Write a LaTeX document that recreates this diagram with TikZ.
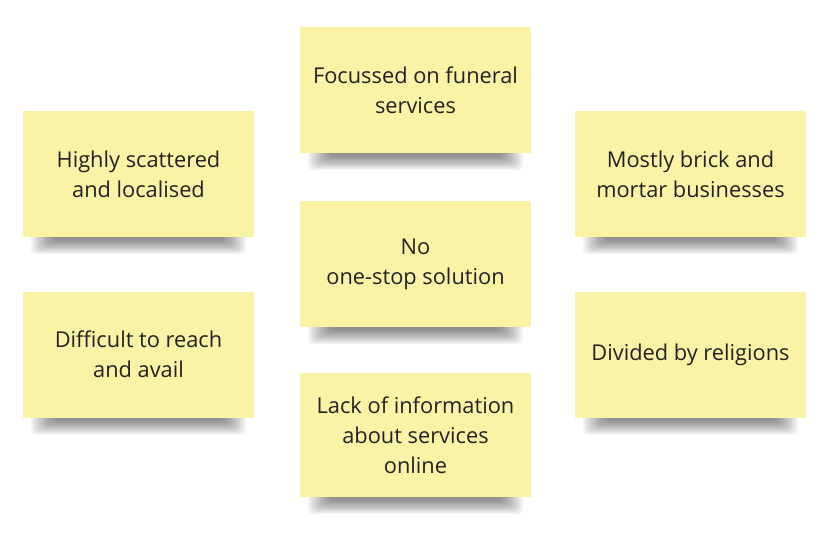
\documentclass[tikz,border=0pt]{standalone}
\usepackage{fontspec}
\setmainfont{Open Sans}
\usetikzlibrary{backgrounds}
\definecolor{notebg}{HTML}{FAF3A6}
\definecolor{notetext}{HTML}{222222}
\tikzset{
  note/.style={fill=notebg, minimum width=231pt, minimum height=126pt, inner sep=0pt,
    align=center, text=notetext, font=\fontsize{21.8}{30}\selectfont},
  shadowlayer/.style={fill=black, opacity=0.042, rounded corners=5pt}
}
\newcommand{\shadowof}[1]{%
  \foreach \i in {0,...,11}{%
    \fill[shadowlayer] ([xshift=8pt+2*\i pt, yshift=4pt]#1.south west) rectangle ([xshift=-8pt-2*\i pt, yshift=-17pt+1.25*\i pt]#1.south east);}}
\begin{document}
\begin{tikzpicture}[x=1pt,y=-1pt]
\begin{scope}[on background layer]
\fill[white] (0,0) rectangle (827,538);
\end{scope}
\useasboundingbox (0,0) rectangle (827,538);
\node[note] (top) at (415.5,90) {Focussed on funeral\\services};
\node[note] (mid) at (415.5,264) {No\\one-stop solution};
\node[note, minimum height=124pt] (bot) at (415.5,435) {Lack of information\\about services\\online};
\node[note] (lt) at (138.5,174) {Highly scattered\\and localised};
\node[note] (lb) at (138.5,354.5) {Difficult to reach\\and avail};
\node[note] (rt) at (690.5,174) {Mostly brick and\\mortar businesses};
\node[note] (rb) at (690.5,354.5) {Divided by religions};
\begin{scope}[on background layer]
\shadowof{top}\shadowof{mid}\shadowof{bot}\shadowof{lt}\shadowof{lb}\shadowof{rt}\shadowof{rb}
\end{scope}
\end{tikzpicture}
\end{document}
